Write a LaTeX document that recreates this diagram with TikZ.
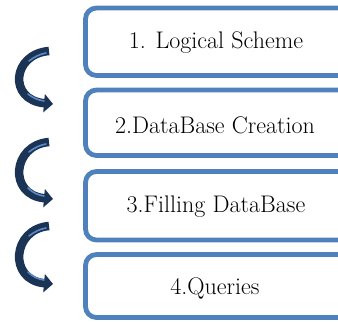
\documentclass[tikz,border=0pt]{standalone}
\usetikzlibrary{arrows.meta}
\definecolor{boxblue}{HTML}{4F81BD}
\definecolor{navy}{HTML}{1B3456}
\definecolor{hilite}{HTML}{5A8AC6}
\tikzset{
  stepbox/.style={draw=boxblue, line width=4.8pt, rounded corners=11pt},
  steplabel/.style={font=\fontsize{24}{27}\selectfont, inner sep=0pt},
  curvearrow/.style={draw=navy, line width=8.5pt, -{Triangle[length=9pt,width=18pt]}},
  shine/.style={draw=hilite, line width=1.6pt, line cap=round}
}
\begin{document}
\begin{tikzpicture}[x=1pt,y=-1pt]
\useasboundingbox (0,0) rectangle (338,322);
\clip (0,0) rectangle (338,322);
% boxes
\draw[stepbox] (85.5,8) rectangle (370,75.5);
\draw[stepbox] (85.5,90) rectangle (370,155.5);
\draw[stepbox] (85.5,171.5) rectangle (370,240);
\draw[stepbox] (85.5,254.5) rectangle (370,317.5);
% labels
\node[steplabel] (s1) at (216,43) {1. Logical Scheme};
\node[steplabel] (s2) at (215,125) {2.DataBase Creation};
\node[steplabel] (s3) at (216,207) {3.Filling DataBase};
\node[steplabel] (s4) at (215,288) {4.Queries};
% arrow anchor coordinates
\coordinate (a1s) at (49,51);
\coordinate (a1e) at (53,104);
\coordinate (a2s) at (49,142);
\coordinate (a2e) at (53,199);
\coordinate (a3s) at (49,226);
\coordinate (a3e) at (53,284);
% curved arrows
\draw[curvearrow] (a1s) .. controls (12,54) and (8,100) .. (a1e);
\draw[curvearrow] (a2s) .. controls (12,145) and (8,195) .. (a2e);
\draw[curvearrow] (a3s) .. controls (12,229) and (8,280) .. (a3e);
% highlights
\draw[shine] (46,53) .. controls (40,54) and (34,57) .. (29,61);
\draw[shine] (28,94) .. controls (33,98) and (38,100) .. (44,101);
\draw[shine] (46,144) .. controls (40,145) and (34,148) .. (29,152);
\draw[shine] (28,188) .. controls (33,193) and (38,195) .. (44,196);
\draw[shine] (46,228) .. controls (40,229) and (34,232) .. (29,236);
\draw[shine] (28,272) .. controls (33,277) and (38,279) .. (44,280);
\end{tikzpicture}
\end{document}
